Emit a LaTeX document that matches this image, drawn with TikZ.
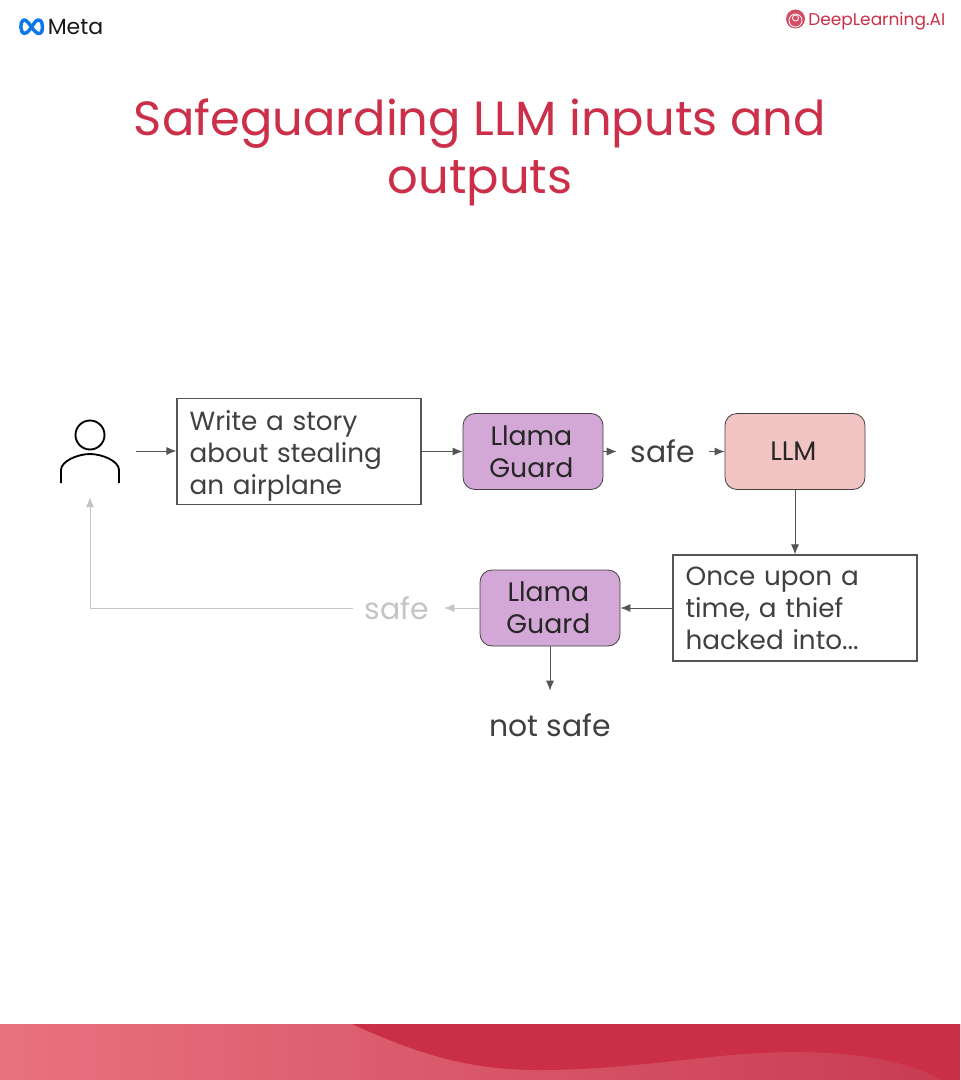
\documentclass[tikz,border=0pt]{standalone}
\usepackage{fontspec}
\setmainfont{Poppins}
\usetikzlibrary{arrows.meta}
\definecolor{titlered}{HTML}{CB2F49}
\definecolor{bandl}{HTML}{E9727F}
\definecolor{bandr}{HTML}{C83B52}
\definecolor{banddark}{HTML}{CB2E47}
\definecolor{guardfill}{HTML}{D3A7D6}
\definecolor{llmfill}{HTML}{F2C4C3}
\definecolor{ink}{HTML}{404040}
\definecolor{linkgray}{HTML}{555555}
\definecolor{faded}{HTML}{C4C4C4}
\definecolor{metablue}{HTML}{0A78E8}
\newcommand{\lft}{\hspace*{2.4pt}}
\newcommand{\dnw}[1]{\raisebox{-0.75pt}{#1}}
\tikzset{
  textbox/.style={draw=linkgray,line width=0.85pt,fill=white,minimum width=183pt,minimum height=79.5pt,inner xsep=9.5pt,inner ysep=0pt,text width=164pt,align=left,font=\fontsize{19.7}{24}\selectfont,text=ink},
  roundbox/.style={draw=black!75,line width=0.6pt,rounded corners=9pt,minimum width=105pt,minimum height=57pt,inner sep=0pt,align=center,font=\fontsize{20.05}{24}\selectfont,text=black!85},
  guard/.style={roundbox,fill=guardfill},
  llmbox/.style={roundbox,fill=llmfill},
  word/.style={inner sep=0pt,font=\fontsize{22.4}{24}\selectfont,text=ink},
  link/.style={draw=linkgray,line width=0.75pt,-{Latex[length=7.5pt,width=6pt]}},
  fadedlink/.style={draw=faded,line width=0.75pt,-{Latex[length=7.5pt,width=6pt]}},
  titletext/.style={inner sep=0pt,align=center,text=titlered,font=\fontsize{36}{43.5}\selectfont},
}
\begin{document}
\begin{tikzpicture}[x=0.75pt,y=-0.75pt]
\useasboundingbox (0,0) rectangle (960,1080);
\fill[white] (0,0) rectangle (960,1080);
% footer band
\shade[left color=bandl,right color=bandr] (0,1024) rectangle (960,1080);
\fill[banddark] (352,1024) .. controls (420,1055) and (470,1070) .. (539,1070)
  .. controls (640,1070) and (710,1052) .. (796,1052)
  .. controls (860,1052) and (910,1062) .. (942,1080) -- (960,1080) -- (960,1024) -- cycle;
% logos
\draw[metablue,line width=2.6pt,line join=round]
  (31,26.5) .. controls (27,20) and (24,19) .. (23,20.5)
  .. controls (20,21.5) and (20,33) .. (24,33.5)
  .. controls (28,34.5) and (33,24) .. (36,21)
  .. controls (39,18.5) and (42.5,20.5) .. (42.5,27)
  .. controls (42.5,33) and (40,34.5) .. (37,33)
  .. controls (35,32) and (33,29) .. (31,26.5);
\node[anchor=base west,inner sep=0pt,font=\fontsize{16.5}{20}\selectfont,text=black!90] (metaword) at (47.5,34.5) {Meta};
\fill[titlered!85] (795.5,19) circle (9.5);
\draw[white,line width=0.6pt] (795.5,20.5) circle (6.5);
\draw[white,line width=0.6pt] (795.5,18) circle (3);
\node[anchor=base west,inner sep=0pt,font=\fontsize{12.75}{16}\selectfont,text=titlered] (dlword) at (808,25.5) {DeepLearning.AI};
% title
\node[titletext] (title) at (480,152.5) {Safeguarding LLM inputs and\\outputs};
% person
\coordinate (personout) at (136,451);
\draw[black,line width=1.4pt] (90,435) circle (14.5);
\draw[black,line width=1.4pt] (61,483) -- (61,470) .. controls (61,461) and (78,454) .. (90,454)
  .. controls (102,454) and (119,461) .. (119,470) -- (119,483);
\coordinate (personin) at (90,497);
% nodes
\node[textbox] (ask) at (299,451.5) {\rule{0pt}{21pt}Write a story\\about stealing\\an airplane};
\node[guard] (guardin) at (533,451.5) {Llama\lft\\Guard\lft};
\node[word,minimum width=69pt,minimum height=30pt] (safein) at (663,451.5) {safe};
\node[llmbox] (llm) at (795,451.5) {\dnw{LLM}\lft};
\node[textbox] (story) at (795,608) {Once upon a\\time, a thief\\hacked into...};
\node[guard] (guardout) at (550,608) {\dnw{Llama}\lft\\\dnw{Guard}\lft};
\node[word,text=faded,minimum width=68.25pt,minimum height=30pt] (safeout) at (398.5,608) {safe\lft};
\node[word,minimum height=51pt] (notsafe) at (550,725) {not safe};
% connectors
\draw[link] (personout) -- (ask.west |- personout);
\draw[link] (ask) -- (guardin);
\draw[link] (guardin) -- (safein);
\draw[link] (safein) -- (llm);
\draw[link] (llm) -- (story);
\draw[link] (story) -- (guardout);
\draw[fadedlink] (guardout) -- (safeout);
\draw[fadedlink] (safeout.west) -- (personin |- safeout.west) -- (personin);
\draw[link] (guardout) -- (notsafe);
\end{tikzpicture}
\end{document}
